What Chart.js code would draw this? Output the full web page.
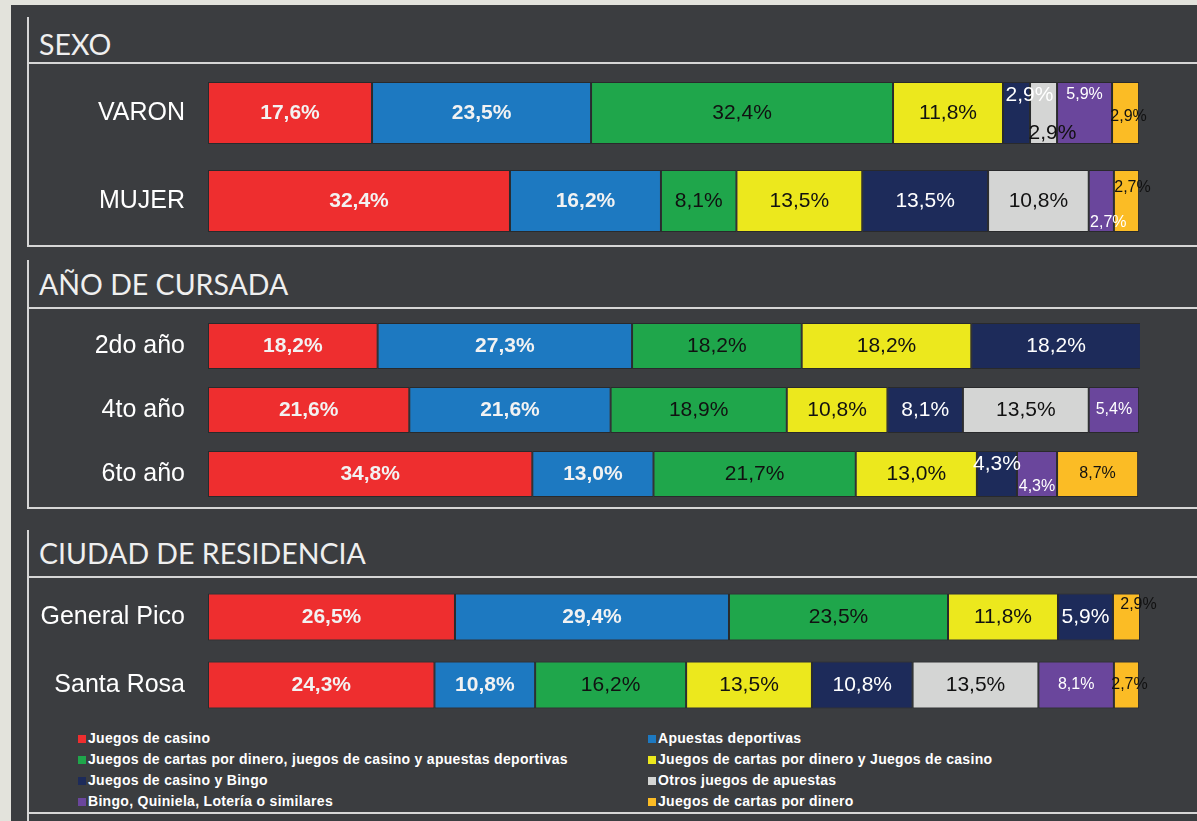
<!DOCTYPE html>
<html>
<head>
<meta charset="utf-8">
<script src="https://cdn.jsdelivr.net/npm/chart.js@4.4.0/dist/chart.umd.min.js"></script>
<style>
  body { margin: 0; background: #e3e3dc; width: 1197px; height: 821px; overflow: hidden; position: relative; font-family: "Liberation Sans", Arial, sans-serif; }
  #panel { position: absolute; left: 11px; top: 5px; width: 1186px; height: 816px; background: #3b3d40; }
  .ln { position: absolute; background: #d6d6d6; }
  .hdr { position: absolute; left: 39px; color: #efefef; font-family: Lato, "Open Sans", sans-serif; font-size: 28.5px; }
  canvas { position: absolute; left: 28px; }
  .leg { position: absolute; color: #fff; font-weight: bold; font-size: 14px; letter-spacing: 0.3px; line-height: 21px; }
  .leg span.sw { display: inline-block; width: 8px; height: 8px; margin-right: 2px; vertical-align: 0px; }
</style>
</head>
<body>
<div id="panel"></div>

<!-- section frames -->
<div class="ln" style="left:27px;top:17px;width:2px;height:230px"></div>
<div class="ln" style="left:28px;top:62px;width:1169px;height:2px"></div>
<div class="ln" style="left:28px;top:245px;width:1169px;height:2px"></div>
<div class="hdr" style="top:27px">SEXO</div>

<div class="ln" style="left:27px;top:260px;width:2px;height:249px"></div>
<div class="ln" style="left:28px;top:307px;width:1169px;height:2px"></div>
<div class="ln" style="left:28px;top:507px;width:1169px;height:2px"></div>
<div class="hdr" style="top:267px">AÑO DE CURSADA</div>

<div class="ln" style="left:27px;top:530px;width:2px;height:291px"></div>
<div class="ln" style="left:28px;top:576px;width:1169px;height:2px"></div>
<div class="ln" style="left:28px;top:812px;width:1169px;height:2px"></div>
<div class="hdr" style="top:536px">CIUDAD DE RESIDENCIA</div>

<canvas id="c1" width="1169" height="182" style="top:64px"></canvas>
<canvas id="c2" width="1169" height="199" style="top:309px"></canvas>
<canvas id="c3" width="1169" height="142" style="top:578px"></canvas>

<div class="leg" id="legL" style="left:78px;top:728px"></div>
<div class="leg" id="legR" style="left:648px;top:728px"></div>

<script>
const seriesNames = [
  "Juegos de casino",
  "Apuestas deportivas",
  "Juegos de cartas por dinero, juegos de casino y apuestas deportivas",
  "Juegos de cartas por dinero  y Juegos de casino",
  "Juegos de casino y Bingo",
  "Otros juegos de apuestas",
  "Bingo, Quiniela, Lotería o similares",
  "Juegos de cartas por dinero"
];
const seriesColors = ["#ee2e2f", "#1d79c1", "#1fa64b", "#ece81d", "#1d2b5a", "#d4d5d4", "#6a469c", "#fbbc25"];
const labelColors = ["#f2f2f2", "#f2f2f2", "#111", "#111", "#fff", "#111", "#fff", "#111"];
const labelBold = [true, true, false, false, false, false, false, false];
const labelSize = [21, 21, 21, 21, 21, 21, 16, 16];

// rows: one array per category, in series order
const sexoRows = ["VARON", "MUJER"];
const sexoValues = [
  [17.6, 23.5, 32.4, 11.8, 2.9, 2.9, 5.9, 2.9],
  [32.4, 16.2, 8.1, 13.5, 13.5, 10.8, 2.7, 2.7]
];
const anioRows = ["2do año", "4to año", "6to año"];
const anioValues = [
  [18.2, 27.3, 18.2, 18.2, 18.2, 0, 0, 0],
  [21.6, 21.6, 18.9, 10.8, 8.1, 13.5, 5.4, 0],
  [34.8, 13.0, 21.7, 13.0, 4.3, 0, 4.3, 8.7]
];
const ciudadRows = ["General Pico", "Santa Rosa"];
const ciudadValues = [
  [26.5, 29.4, 23.5, 11.8, 5.9, 0, 0, 2.9],
  [24.3, 10.8, 16.2, 13.5, 10.8, 13.5, 8.1, 2.7]
];

// label nudges for the narrow segments: "row-series": [dx, dy]
const nudges1 = { "0-4": [13, -18], "0-5": [9, 20], "0-6": [0, -18], "0-7": [3, 4], "1-6": [7, 22], "1-7": [6, -13] };
const nudges2 = { "2-4": [0, -10], "2-6": [0, 13] };
const nudges3 = { "0-7": [12, -12], "1-7": [3, 0] };

const segLabels = {
  id: "segLabels",
  afterDatasetsDraw(chart, args, opts) {
    const ctx = chart.ctx;
    ctx.save();
    ctx.textAlign = "center";
    ctx.textBaseline = "middle";
    chart.data.datasets.forEach((ds, di) => {
      chart.getDatasetMeta(di).data.forEach((bar, ri) => {
        const v = ds.data[ri];
        if (!v) return;
        const n = opts.nudges[ri + "-" + di] || [0, 0];
        ctx.font = (labelBold[di] ? "bold " : "") + labelSize[di] + "px 'Liberation Sans', Arial, sans-serif";
        ctx.fillStyle = labelColors[di];
        ctx.fillText(v.toFixed(1).replace(".", ",") + "%", (bar.x + bar.base) / 2 + n[0], bar.y + n[1]);
      });
    });
    ctx.restore();
  }
};

function makeChart(id, rows, values, barPct, pad, nudges) {
  const datasets = seriesNames.map((name, si) => ({
    label: name,
    data: values.map(r => r[si]),
    backgroundColor: seriesColors[si],
    borderColor: "rgba(0,0,0,0.3)",
    borderWidth: 1,
    borderSkipped: false,
    categoryPercentage: 1,
    barPercentage: barPct
  }));
  return new Chart(document.getElementById(id), {
    type: "bar",
    data: { labels: rows, datasets },
    options: {
      indexAxis: "y",
      responsive: false,
      animation: false,
      layout: { padding: { top: pad[0], bottom: pad[1], right: 57, left: 0 } },
      plugins: { legend: { display: false }, tooltip: { enabled: false }, segLabels: { nudges } },
      scales: {
        x: { stacked: true, min: 0, max: 100, display: false },
        y: {
          stacked: true,
          grid: { display: false, drawTicks: false },
          border: { display: false },
          ticks: { color: "#fff", padding: 23, font: { family: "'Liberation Sans', Arial, sans-serif", size: 25 } },
          afterFit: s => { s.width = 180; s.paddingTop = 0; s.paddingBottom = 0; }
        }
      }
    },
    plugins: [segLabels]
  });
}

makeChart("c1", sexoRows, sexoValues, 0.705, [5, 1], nudges1);
makeChart("c2", anioRows, anioValues, 0.72, [5, 2], nudges2);
makeChart("c3", ciudadRows, ciudadValues, 0.69, [5, 1], nudges3);

// legend, two columns
const legL = document.getElementById("legL");
const legR = document.getElementById("legR");
seriesNames.forEach((name, i) => {
  const row = document.createElement("div");
  row.innerHTML = '<span class="sw" style="background:' + seriesColors[i] + '"></span>' + name;
  (i % 2 === 0 ? legL : legR).appendChild(row);
});
</script>
</body>
</html>
